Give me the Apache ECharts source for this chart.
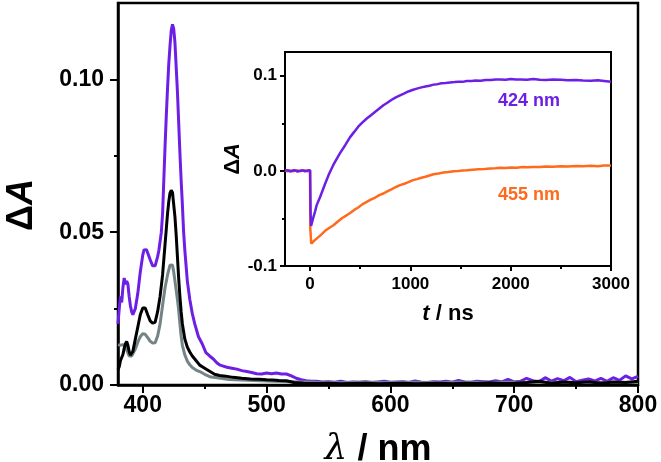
<!DOCTYPE html>
<html>
<head>
<meta charset="utf-8">
<script src="https://cdn.jsdelivr.net/npm/echarts@6/dist/echarts.min.js"></script>
<style>
html,body{margin:0;padding:0;background:#fff;}
#c{width:661px;height:462px;}
</style>
</head>
<body>
<div id="c"></div>
<script>
// ---- Main spectra (wavelength nm, ΔA) ----
const purpleSpec = [[380,0.020],[381,0.025],[382,0.029],[383,0.027],[384,0.032],[385,0.035],[386,0.033],[387,0.034],[388,0.033],[389,0.029],[390,0.026],[391,0.024],[392,0.023],[393,0.023],[394,0.025],[396,0.030],[398,0.037],[400,0.0425],[401,0.0442],[402,0.0447],[403,0.0443],[404,0.0432],[406,0.041],[408,0.039],[409,0.0387],[410,0.039],[412,0.042],[413,0.044],[414,0.047],[415,0.050],[416,0.056],[417,0.067],[418,0.078],[419,0.088],[420,0.097],[421,0.105],[422,0.111],[423,0.116],[424,0.118],[425,0.1165],[426,0.112],[427,0.104],[428,0.096],[429,0.086],[430,0.076],[431,0.067],[432,0.059],[433,0.050],[434,0.044],[435,0.039],[436,0.034],[438,0.028],[440,0.0234],[442,0.020],[445,0.0158],[448,0.0135],[451,0.0106],[454,0.0095],[457,0.0085],[460,0.0072],[462,0.0066],[465,0.0062],[468,0.0058],[472,0.0055],[476,0.0052],[480,0.0047],[484,0.0044],[488,0.0041],[492,0.0037],[496,0.0036],[500,0.0039],[504,0.0037],[508,0.0039],[512,0.0036],[516,0.0036],[520,0.0030],[524,0.0022],[528,0.0017],[532,0.0014],[536,0.0012],[540,0.0012],[545,0.0010],[550,0.0011],[555,0.0009],[560,0.0012],[565,0.0008],[570,0.0010],[575,0.0009],[580,0.0011],[585,0.0008],[590,0.0010],[595,0.0012],[600,0.0009],[605,0.0010],[610,0.0011],[615,0.0008],[620,0.0013],[625,0.0009],[630,0.0008],[635,0.0011],[640,0.0010],[645,0.0012],[650,0.0009],[655,0.0015],[660,0.0010],[665,0.0009],[670,0.0012],[675,0.0011],[680,0.0010],[685,0.0014],[690,0.0010],[695,0.0018],[700,0.0010],[705,0.0012],[710,0.0022],[715,0.0014],[720,0.0011],[725,0.0024],[730,0.0013],[735,0.0021],[740,0.0014],[745,0.0025],[750,0.0011],[755,0.0016],[760,0.0020],[765,0.0013],[770,0.0022],[775,0.0012],[780,0.0024],[785,0.0015],[790,0.0030],[795,0.0020],[800,0.0028]];

const blackSpec = [[380,0.005],[381,0.006],[382,0.008],[383,0.009],[384,0.010],[385,0.012],[386,0.0135],[387,0.0142],[388,0.013],[389,0.011],[390,0.0098],[391,0.010],[392,0.011],[394,0.015],[396,0.019],[398,0.023],[400,0.0252],[401,0.0256],[402,0.0252],[404,0.023],[406,0.021],[408,0.0202],[409,0.0202],[410,0.0206],[412,0.024],[414,0.029],[416,0.036],[418,0.046],[419,0.051],[420,0.056],[421,0.060],[422,0.0628],[423,0.0637],[424,0.063],[425,0.059],[426,0.055],[427,0.049],[428,0.042],[429,0.035],[430,0.029],[431,0.024],[432,0.020],[434,0.015],[436,0.0124],[438,0.0108],[440,0.0095],[443,0.008],[446,0.0065],[450,0.0055],[454,0.0045],[458,0.0035],[462,0.0031],[467,0.0029],[473,0.0025],[480,0.0022],[487,0.0020],[494,0.0019],[500,0.0017],[505,0.0016],[510,0.0015],[516,0.0014],[522,0.0008],[530,0.0006],[540,0.0005],[550,0.0006],[560,0.0004],[570,0.0005],[580,0.0006],[590,0.0004],[600,0.0005],[610,0.0006],[620,0.0004],[630,0.0005],[640,0.0006],[650,0.0004],[660,0.0006],[670,0.0005],[680,0.0007],[690,0.0005],[700,0.0006],[710,0.0008],[720,0.0012],[730,0.0006],[740,0.0010],[750,0.0007],[760,0.0011],[770,0.0006],[780,0.0010],[790,0.0008],[800,0.0012]];

const graySpec = [[380,0.0132],[381,0.0135],[382,0.013],[383,0.0128],[384,0.0132],[385,0.013],[386,0.0125],[387,0.012],[388,0.0105],[389,0.0095],[390,0.0092],[391,0.0095],[392,0.010],[394,0.0118],[396,0.014],[398,0.0158],[400,0.0168],[401,0.0169],[402,0.0166],[404,0.0155],[406,0.0143],[408,0.0137],[409,0.0136],[410,0.0138],[412,0.016],[414,0.020],[416,0.026],[418,0.0318],[420,0.036],[422,0.0392],[423,0.0398],[424,0.0393],[425,0.037],[426,0.034],[427,0.031],[428,0.028],[429,0.0245],[430,0.020],[431,0.016],[432,0.013],[434,0.0098],[436,0.0078],[438,0.0066],[440,0.0057],[443,0.0049],[446,0.0044],[450,0.0035],[455,0.0026],[460,0.0024],[470,0.0018],[480,0.0016],[500,0.0013],[520,0.0011],[540,0.0009],[560,0.0008],[580,0.0009],[600,0.0008],[620,0.0009],[640,0.0008],[660,0.0009],[680,0.0008],[700,0.0009],[720,0.0008],[740,0.0009],[760,0.0008],[780,0.0009],[800,0.0008]];

// ---- Inset kinetics (time ns, ΔA) ----
const kin424 = [[-250,0.0000],[-225,0.0008],[-200,-0.0006],[-175,0.0003],[-150,0.0007],[-125,-0.0008],[-100,0.0002],[-75,0.0006],[-50,-0.0005],[-25,0.0004],[0,0.0008],[5,-0.045],[10,-0.058],[20,-0.054],[35,-0.048],[50,-0.0425],[66,-0.036],[100,-0.0275],[150,-0.0135],[190,-0.0030],[233,0.0065],[270,0.0135],[300,0.0190],[350,0.0270],[399,0.0355],[440,0.0410],[480,0.0465],[520,0.0508],[565,0.0551],[610,0.0588],[650,0.0622],[690,0.0655],[731,0.0690],[770,0.0716],[810,0.0745],[850,0.0770],[897,0.0795],[940,0.0815],[980,0.0835],[1020,0.0850],[1064,0.0865],[1110,0.0878],[1150,0.0888],[1190,0.0896],[1230,0.0907],[1270,0.0912],[1310,0.0922],[1350,0.0925],[1396,0.0930],[1440,0.0934],[1480,0.0938],[1520,0.0936],[1562,0.0944],[1610,0.0946],[1650,0.0950],[1700,0.0948],[1750,0.0956],[1800,0.0955],[1850,0.0960],[1894,0.0962],[1950,0.0958],[2000,0.0965],[2050,0.0960],[2100,0.0962],[2160,0.0958],[2226,0.0965],[2290,0.0958],[2350,0.0955],[2420,0.0960],[2500,0.0958],[2570,0.0952],[2650,0.0956],[2720,0.0950],[2800,0.0948],[2870,0.0953],[2930,0.0946],[3000,0.0937]];

const kin455 = [[-250,0.0004],[-225,-0.0005],[-200,0.0006],[-175,-0.0004],[-150,0.0002],[-125,0.0006],[-100,-0.0005],[-75,0.0003],[-50,0.0006],[-25,-0.0004],[0,0.0002],[2,-0.060],[8,-0.070],[12,-0.0765],[25,-0.0752],[45,-0.0730],[66,-0.0712],[100,-0.0680],[150,-0.0630],[190,-0.0600],[233,-0.0572],[280,-0.0530],[320,-0.0495],[360,-0.0470],[399,-0.0442],[440,-0.0410],[480,-0.0385],[520,-0.0352],[565,-0.0326],[610,-0.0300],[650,-0.0280],[690,-0.0255],[731,-0.0238],[770,-0.0215],[810,-0.0195],[850,-0.0172],[897,-0.0150],[940,-0.0135],[980,-0.0118],[1020,-0.0100],[1064,-0.0087],[1110,-0.0072],[1150,-0.0062],[1190,-0.0048],[1230,-0.0035],[1280,-0.0028],[1330,-0.0018],[1380,-0.0012],[1430,-0.0004],[1480,-0.0002],[1520,0.0004],[1562,0.0007],[1620,0.0012],[1680,0.0016],[1740,0.0020],[1800,0.0026],[1850,0.0028],[1894,0.0032],[1950,0.0030],[2000,0.0036],[2060,0.0034],[2120,0.0040],[2170,0.0038],[2226,0.0042],[2290,0.0040],[2350,0.0046],[2420,0.0043],[2500,0.0048],[2570,0.0045],[2650,0.0051],[2720,0.0049],[2800,0.0053],[2870,0.0050],[2930,0.0056],[3000,0.0057]];

// ---- Tick values ----
const mainXMajor = [400,500,600,700,800];
const mainXMinor = [450,550,650,750];
const mainYMajor = [0,0.05,0.10];
const mainYMinor = [0.025,0.075];
const insetXMajor = [0,1000,2000,3000];
const insetXMinor = [500,1500,2500];
const insetYMajor = [-0.1,0,0.1];
const insetYMinor = [-0.05,0.05];

const PURPLE = '#6d1fe6';
const ORANGE = '#ff6a1c';
const GRAY = '#748486';
const FONT = 'Liberation Sans, Arial, sans-serif';

const chart = echarts.init(document.getElementById('c'), null, {renderer:'canvas'});

function ax(grid, pos, min, max, ticks, tickLen, lineW, labelOpt, nameOpt) {
  const o = {
    type:'value', gridIndex:grid, position:pos, min:min, max:max, offset:0,
    axisLine:{show:true, onZero:false, lineStyle:{color: lineW>0 ? '#000' : 'rgba(0,0,0,0)', width:lineW||1}},
    axisTick:{show:true, inside:false, length:tickLen, customValues:ticks, lineStyle:{color:'#000', width:2}},
    axisLabel:labelOpt ? Object.assign({show:true, color:'#000', fontFamily:FONT, fontWeight:'bold'}, labelOpt) : {show:false},
    splitLine:{show:false}
  };
  return Object.assign(o, nameOpt||{});
}

const option = {
  animation:false,
  backgroundColor:'#fff',
  grid:[
    {left:118, top:3, width:520, height:382, show:true, borderColor:'#000', borderWidth:2.5, backgroundColor:'transparent', containLabel:false, outerBoundsMode:'none'},
    {left:285, top:52, width:326, height:214, show:true, borderColor:'#000', borderWidth:2, backgroundColor:'#fff', containLabel:false, outerBoundsMode:'none'}
  ],
  xAxis:[
    ax(0,'bottom',380,800,mainXMajor,8,2.5,
      {customValues:mainXMajor, fontSize:23, margin:9, formatter:v=>String(v)},
      {name:'{i|λ} / nm', nameLocation:'middle', nameGap:47,
       nameTextStyle:{color:'#000', fontFamily:FONT, fontWeight:'bold', fontSize:36,
        rich:{i:{fontFamily:'DejaVu Serif, serif', fontStyle:'italic', fontWeight:'normal', fontSize:36, color:'#000'}}}}),
    ax(0,'bottom',380,800,mainXMinor,4,0,null),
    ax(1,'bottom',-250,3000,insetXMajor,5,2,
      {customValues:insetXMajor, fontSize:17, margin:10, formatter:v=>String(v)},
      {name:'{i|t} / ns', nameLocation:'middle', nameGap:37,
       nameTextStyle:{color:'#000', fontFamily:FONT, fontWeight:'bold', fontSize:22,
        rich:{i:{fontFamily:FONT, fontStyle:'italic', fontWeight:'bold', fontSize:22, color:'#000'}}}}),
    ax(1,'bottom',-250,3000,insetXMinor,3,0,null)
  ],
  yAxis:[
    ax(0,'left',0,0.125,mainYMajor,8,2.5,
      {customValues:mainYMajor, fontSize:23, margin:14, formatter:v=>v.toFixed(2)},
      {name:'Δ{i|A}', nameLocation:'middle', nameGap:78,
       nameTextStyle:{color:'#000', fontFamily:FONT, fontWeight:'bold', fontSize:36, padding:[0,22,0,0],
        rich:{i:{fontFamily:FONT, fontStyle:'italic', fontWeight:'bold', fontSize:36, color:'#000'}}}}),
    ax(0,'left',0,0.125,mainYMinor,4,0,null),
    ax(1,'left',-0.1,0.125,insetYMajor,5,2,
      {customValues:insetYMajor, fontSize:17, margin:8, formatter:v=>v.toFixed(1)},
      {name:'Δ{i|A}', nameLocation:'middle', nameGap:40,
       nameTextStyle:{color:'#000', fontFamily:FONT, fontWeight:'bold', fontSize:22,
        rich:{i:{fontFamily:FONT, fontStyle:'italic', fontWeight:'bold', fontSize:22, color:'#000'}}}}),
    ax(1,'left',-0.1,0.125,insetYMinor,3,0,null)
  ],
  series:[
    {type:'line', xAxisIndex:0, yAxisIndex:0, data:graySpec, showSymbol:false, lineStyle:{color:GRAY, width:3}, z:2},
    {type:'line', xAxisIndex:0, yAxisIndex:0, data:blackSpec, showSymbol:false, lineStyle:{color:'#000', width:3}, z:3},
    {type:'line', xAxisIndex:0, yAxisIndex:0, data:purpleSpec, showSymbol:false, lineStyle:{color:PURPLE, width:3}, z:1},
    {type:'line', xAxisIndex:2, yAxisIndex:2, data:kin455, showSymbol:false, lineStyle:{color:ORANGE, width:2.5}, z:5},
    {type:'line', xAxisIndex:2, yAxisIndex:2, data:kin424, showSymbol:false, lineStyle:{color:PURPLE, width:2.5}, z:6}
  ],
  graphic:[
    {type:'text', left:498, top:92, z:10, style:{text:'424 nm', fill:PURPLE, font:'bold 18px '+FONT}},
    {type:'text', left:498, top:186, z:10, style:{text:'455 nm', fill:ORANGE, font:'bold 18px '+FONT}}
  ]
};
chart.setOption(option);
</script>
</body>
</html>
